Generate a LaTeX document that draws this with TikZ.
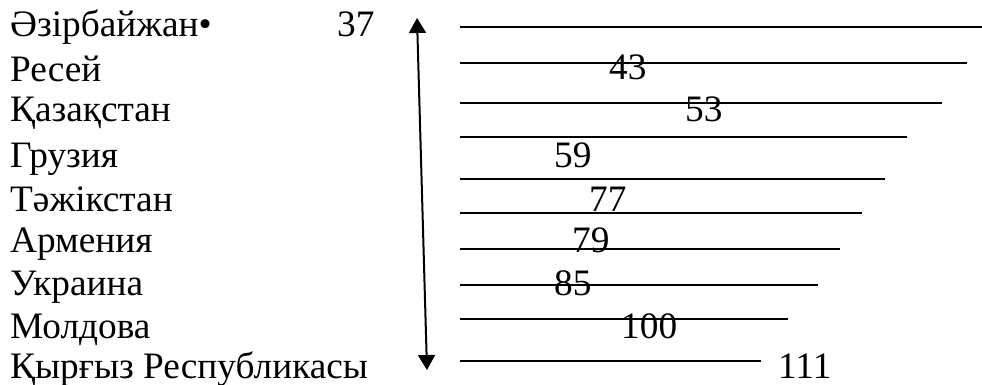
\documentclass[tikz,border=0pt]{standalone}
\usepackage{fontspec}
\setmainfont{Liberation Serif}
\usetikzlibrary{arrows.meta}
\begin{document}
\begin{tikzpicture}[x=1pt,y=-1pt,
  lbl/.style={anchor=base west,inner sep=0pt,font=\fontsize{37.3}{44}\selectfont},
  bar/.style={line width=2pt},
  axis/.style={line width=2pt,{Triangle[length=15pt,width=17pt]}-{Triangle[length=15pt,width=17pt]}}]
\useasboundingbox (0,0) rectangle (982,385);
% country names
\node[lbl] (c1) at (10,37) {Әзірбайжан•};
\node[lbl] (c2) at (10,82) {Ресей};
\node[lbl] (c3) at (10,122) {Қазақстан};
\node[lbl] (c4) at (10,167) {Грузия};
\node[lbl] (c5) at (10,211) {Тәжікстан};
\node[lbl] (c6) at (10,252) {Армения};
\node[lbl] (c7) at (10,295) {Украина};
\node[lbl] (c8) at (10,338) {Молдова};
\node[lbl] (c9) at (10,378) {Қырғыз Республикасы};
% arrow
\coordinate (atop) at (417,18);
\coordinate (abot) at (427,370);
\draw[axis] (abot) -- (atop);
% bars
\foreach \i/\y/\e in {1/27/982,2/63/967,3/103/942,4/137/907,5/179/885,6/213/862,7/249/840,8/285/818,9/319/788,10/361/761}{
  \coordinate (bs\i) at (460,\y);
  \coordinate (be\i) at (\e,\y);
  \draw[bar] (bs\i) -- (be\i);
}
% values
\node[lbl] (v1) at (337,37) {37};
\node[lbl] (v2) at (609,80) {43};
\node[lbl] (v3) at (685,122) {53};
\node[lbl] (v4) at (554,167) {59};
\node[lbl] (v5) at (589,211) {77};
\node[lbl] (v6) at (572,252) {79};
\node[lbl] (v7) at (554,295) {85};
\node[lbl] (v8) at (621,338) {100};
\node[lbl] (v9) at (778,378) {111};
\end{tikzpicture}
\end{document}
